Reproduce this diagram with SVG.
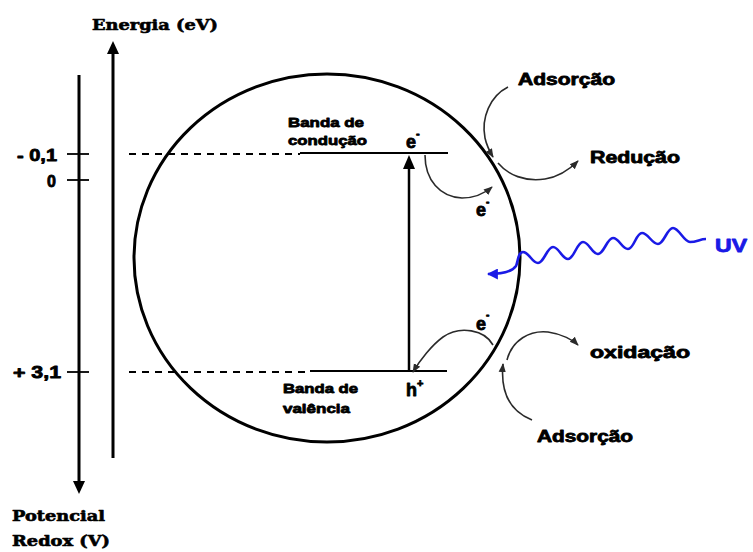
<svg xmlns="http://www.w3.org/2000/svg" width="753" height="552" viewBox="0 0 753 552">
<style>
.sans{font-family:"Liberation Sans",Arial,sans-serif;font-weight:bold;fill:#000;stroke:#000;stroke-width:0.8;stroke-linejoin:round}
.serif{font-family:"DejaVu Serif","Liberation Serif",serif;font-weight:bold;fill:#000;stroke:#000;stroke-width:0.6;stroke-linejoin:round}
.uv{fill:#1a1ae6;stroke:#1a1ae6}
.axis{stroke:#000;stroke-width:3;fill:none}
.dash{stroke:#000;stroke-width:1.8;stroke-dasharray:7,6;fill:none}
.band{stroke:#000;stroke-width:1.8;fill:none}
.arc{stroke:#2a2a2a;stroke-width:1.6;fill:none;marker-end:url(#ah)}
</style>
<defs>
<marker id="ah" viewBox="0 0 10 10" refX="9" refY="5" markerWidth="9" markerHeight="9" markerUnits="userSpaceOnUse" orient="auto">
<path d="M0,1 L10,5 L0,9 Z" fill="#2a2a2a"/>
</marker>
<marker id="ahuv" viewBox="0 0 10 10" refX="9" refY="5" markerWidth="11" markerHeight="11" markerUnits="userSpaceOnUse" orient="auto">
<path d="M0,0 L10,5 L0,10 Z" fill="#1a1ae6"/>
</marker>
</defs>
<rect width="753" height="552" fill="#fff"/>

<g id="particle">
<ellipse cx="327" cy="258" rx="193" ry="184" fill="none" stroke="#000" stroke-width="3"/>
</g>

<g id="energy-axis">
<line x1="113" y1="52" x2="113" y2="458" class="axis"/>
<path d="M107,54 L113,41 L119,54 Z" fill="#000"/>
<text class="serif" x="92" y="30" font-size="15" textLength="126" lengthAdjust="spacingAndGlyphs">Energia (eV)</text>
</g>

<g id="redox-axis">
<line x1="79" y1="75" x2="79" y2="483" class="axis"/>
<path d="M73,481 L79,494 L85,481 Z" fill="#000"/>
<line x1="67" y1="154" x2="89" y2="154" class="band"/>
<line x1="67" y1="180" x2="89" y2="180" class="band"/>
<line x1="67" y1="372" x2="89" y2="372" class="band"/>
<text class="sans" x="17" y="161" font-size="16" textLength="40" lengthAdjust="spacingAndGlyphs">- 0,1</text>
<text class="sans" x="47" y="187" font-size="16">0</text>
<text class="sans" x="13" y="378" font-size="16" textLength="48" lengthAdjust="spacingAndGlyphs">+ 3,1</text>
<text class="serif" x="12" y="521" font-size="15" textLength="93" lengthAdjust="spacingAndGlyphs">Potencial</text>
<text class="serif" x="12" y="546" font-size="15" textLength="98" lengthAdjust="spacingAndGlyphs">Redox (V)</text>
</g>

<g id="conduction-band">
<line x1="129" y1="154" x2="300" y2="154" class="dash"/>
<line x1="300" y1="153" x2="448" y2="153" class="band"/>
<text class="sans" x="288" y="127" font-size="13" textLength="76" lengthAdjust="spacingAndGlyphs">Banda de</text>
<text class="sans" x="288" y="145" font-size="13" textLength="79" lengthAdjust="spacingAndGlyphs">condução</text>
<text class="sans" x="406" y="148" font-size="18">e<tspan font-size="11" dy="-11">-</tspan></text>
</g>

<g id="valence-band">
<line x1="129" y1="372" x2="310" y2="372" class="dash"/>
<line x1="310" y1="371" x2="447" y2="371" class="band"/>
<text class="sans" x="283" y="393" font-size="13" textLength="75" lengthAdjust="spacingAndGlyphs">Banda de</text>
<text class="sans" x="283" y="413" font-size="13" textLength="67" lengthAdjust="spacingAndGlyphs">valência</text>
<text class="sans" x="406" y="396" font-size="18">h<tspan font-size="11" dy="-9">+</tspan></text>
</g>

<g id="surface-electrons">
<text class="sans" x="476" y="216" font-size="18">e<tspan font-size="10" dy="-11">-</tspan></text>
<text class="sans" x="476" y="330" font-size="18">e<tspan font-size="10" dy="-12">-</tspan></text>
</g>

<g id="labels-right">
<text class="sans" x="518" y="85" font-size="16" textLength="97" lengthAdjust="spacingAndGlyphs">Adsorção</text>
<text class="sans" x="590" y="163" font-size="16" textLength="90" lengthAdjust="spacingAndGlyphs">Redução</text>
<text class="sans" x="590" y="358" font-size="16" textLength="100" lengthAdjust="spacingAndGlyphs">oxidação</text>
<text class="sans" x="537" y="442" font-size="16" textLength="96" lengthAdjust="spacingAndGlyphs">Adsorção</text>
<text class="sans uv" x="715" y="252" font-size="19" textLength="32" lengthAdjust="spacingAndGlyphs">UV</text>
</g>

<g id="connectors">
<line x1="409" y1="371" x2="409" y2="167" stroke="#000" stroke-width="2.5"/>
<path d="M403,169 L409,155 L415,169 Z" fill="#000"/>
<path class="arc" d="M508,87 C490,96 481,118 485,138 C487,147 490,152 493,157"/>
<path class="arc" d="M498,163 C508,175 525,182 545,179 C558,177 570,169 578,161"/>
<path class="arc" d="M425,155 C425,180 440,197 462,198 C475,198 485,193 492,187"/>
<path class="arc" d="M493,345 C485,330 460,325 443,337 C432,345 420,360 413,372"/>
<path class="arc" d="M507,360 C512,340 530,330 548,332 C562,334 573,340 578,345"/>
<path class="arc" d="M532,420 C512,412 500,395 503,364"/>
<path d="M706,239 C700,239 697,242 690,242 C684,242 679,228 673,228 C667,228 664,244 658,244 C652,244 648,233 642,233 C636,233 634,249 628,249 C622,249 619,238 613,238 C607,238 604,254 598,254 C592,254 589,242 583,242 C577,242 574,259 568,259 C562,259 559,247 553,247 C547,247 544,263 538,263 C532,263 529,252 523,252 C518,252 518,262 516,266 C512,272 500,274 488,274" fill="none" stroke="#1a1ae6" stroke-width="2.6" marker-end="url(#ahuv)"/>
</g>
</svg>
